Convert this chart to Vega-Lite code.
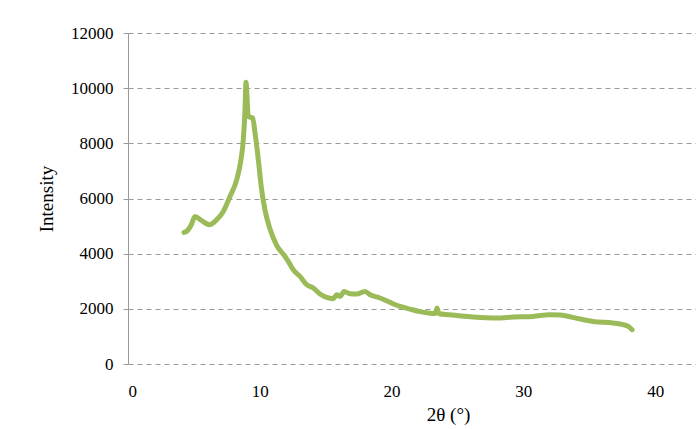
{
  "$schema": "https://vega.github.io/schema/vega-lite/v6.json",
  "autosize": {"type": "none"},
  "width": 568,
  "height": 331,
  "padding": {"left": 128, "top": 33, "right": 0, "bottom": 65},
  "background": "white",
  "config": {
    "view": {"stroke": null},
    "font": "Liberation Serif"
  },
  "data": {
    "values": [
      {"t": 4.25, "i": 4770}, {"t": 4.45, "i": 4810}, {"t": 4.8, "i": 5050}, {"t": 5.08, "i": 5350},
      {"t": 5.59, "i": 5195}, {"t": 6.17, "i": 5050}, {"t": 6.73, "i": 5230}, {"t": 7.23, "i": 5530},
      {"t": 7.74, "i": 6075}, {"t": 8.25, "i": 6680}, {"t": 8.57, "i": 7400}, {"t": 8.75, "i": 8130},
      {"t": 8.88, "i": 9220}, {"t": 8.95, "i": 10210}, {"t": 9.13, "i": 8975}, {"t": 9.46, "i": 8915},
      {"t": 9.64, "i": 8370}, {"t": 9.89, "i": 7400}, {"t": 10.14, "i": 6320}, {"t": 10.39, "i": 5590},
      {"t": 10.77, "i": 4900}, {"t": 11.28, "i": 4300}, {"t": 11.91, "i": 3900}, {"t": 12.16, "i": 3720},
      {"t": 12.54, "i": 3418}, {"t": 13.05, "i": 3175}, {"t": 13.56, "i": 2875}, {"t": 14.06, "i": 2755},
      {"t": 14.57, "i": 2537}, {"t": 15.07, "i": 2414}, {"t": 15.58, "i": 2367}, {"t": 15.83, "i": 2512},
      {"t": 16.08, "i": 2450}, {"t": 16.4, "i": 2632}, {"t": 16.84, "i": 2548}, {"t": 17.35, "i": 2537},
      {"t": 17.98, "i": 2632}, {"t": 18.4, "i": 2500}, {"t": 19.12, "i": 2392}, {"t": 19.88, "i": 2233},
      {"t": 20.64, "i": 2088}, {"t": 21.4, "i": 1990}, {"t": 22.15, "i": 1900}, {"t": 22.78, "i": 1849},
      {"t": 23.3, "i": 1830}, {"t": 23.45, "i": 2030}, {"t": 23.6, "i": 1823}, {"t": 24.4, "i": 1787},
      {"t": 25.3, "i": 1740}, {"t": 26.2, "i": 1704}, {"t": 27.97, "i": 1667}, {"t": 29.23, "i": 1704},
      {"t": 30.75, "i": 1726}, {"t": 32.0, "i": 1790}, {"t": 32.78, "i": 1776}, {"t": 34.3, "i": 1631},
      {"t": 35.3, "i": 1544}, {"t": 36.8, "i": 1486}, {"t": 37.58, "i": 1425}, {"t": 37.96, "i": 1363},
      {"t": 38.25, "i": 1243}
    ]
  },
  "mark": {"type": "line", "color": "#9BBB59", "strokeWidth": 5, "strokeCap": "round", "strokeJoin": "round", "interpolate": "monotone"},
  "encoding": {
    "x": {
      "field": "t", "type": "quantitative",
      "scale": {"domain": [0, 43.1], "nice": false},
      "axis": {
        "values": [0, 10, 20, 30, 40],
        "format": "d",
        "title": "2θ (°)",
        "titleFont": "Liberation Serif", "titleFontSize": 19, "titleFontWeight": "normal", "titleColor": "#000",
        "titlePadding": 6, "titleX": 320,
        "labelFont": "Liberation Serif", "labelFontSize": 17, "labelColor": "#000", "labelPadding": 19,
        "domain": false, "ticks": false, "grid": false
      }
    },
    "y": {
      "field": "i", "type": "quantitative",
      "scale": {"domain": [0, 12000], "nice": false},
      "axis": {
        "values": [0, 2000, 4000, 6000, 8000, 10000, 12000],
        "format": "d",
        "title": "Intensity",
        "titleFont": "Liberation Serif", "titleFontSize": 19, "titleFontWeight": "normal", "titleColor": "#000",
        "titlePadding": 14,
        "labelFont": "Liberation Serif", "labelFontSize": 17, "labelColor": "#000", "labelPadding": 10,
        "domainColor": "#999", "tickColor": "#999", "tickSize": 5,
        "grid": true, "gridColor": "#9a9a9a", "gridDash": [5, 4], "gridWidth": 1
      }
    }
  }
}
